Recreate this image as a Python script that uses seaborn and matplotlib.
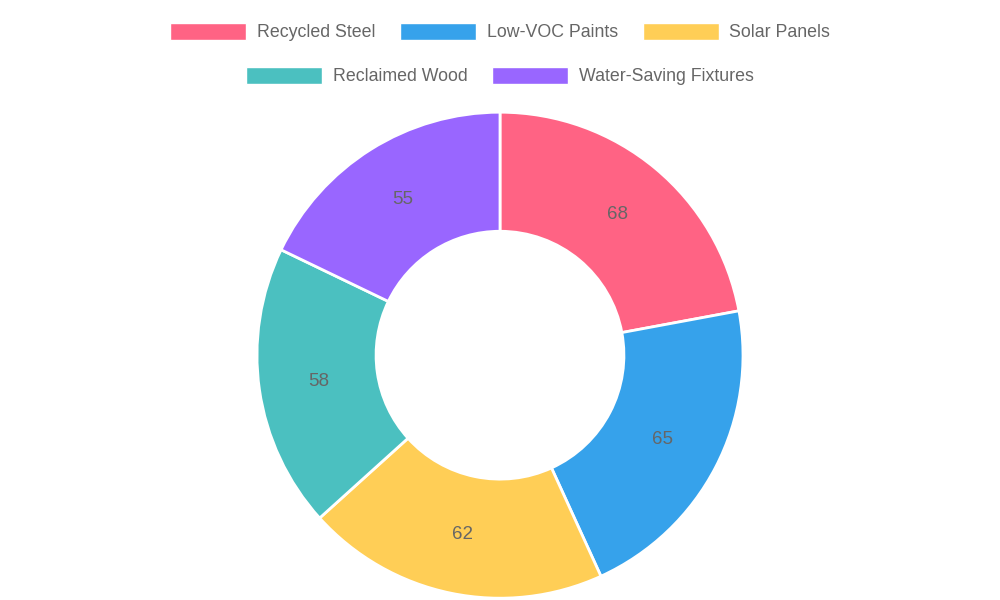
import matplotlib
matplotlib.use("Agg")
import matplotlib.pyplot as plt
import seaborn as sns
from matplotlib.patches import Patch

sns.set_theme(style="white")
plt.rcParams['font.family'] = ['Liberation Sans', 'DejaVu Sans']

categories = ["Recycled Steel", "Low-VOC Paints", "Solar Panels", "Reclaimed Wood", "Water-Saving Fixtures"]
values = [68, 65, 62, 58, 55]
colors = ["#FF6384", "#36A2EB", "#FFCE56", "#4BC0C0", "#9966FF"]

fig = plt.figure(figsize=(10, 6), dpi=100)
ax = fig.add_axes([0.257, 0.003, 0.486, 0.81])
wedges, texts, autotexts = ax.pie(
    values, colors=colors, startangle=90, counterclock=False,
    autopct=lambda p: f"{round(p * sum(values) / 100)}", pctdistance=0.755,
    wedgeprops=dict(width=0.49, edgecolor="white", linewidth=2),
    textprops=dict(color="#666666", fontsize=13.5))
ax.set_xlim(-1, 1); ax.set_ylim(-1, 1); ax.set_aspect("equal"); ax.axis("off")

handles = [Patch(facecolor=c, edgecolor="white") for c in colors]
common = dict(frameon=False, fontsize=12.75, handlelength=4.3, handleheight=1.1,
              handletextpad=0.6, columnspacing=1.4, labelcolor="#666666", loc="center")
fig.legend(handles[:3], categories[:3], ncol=3, bbox_to_anchor=(0.5, 0.947), **common)
fig.legend(handles[3:], categories[3:], ncol=2, bbox_to_anchor=(0.5, 0.873), **common)
fig.savefig("out.png", dpi=100)
